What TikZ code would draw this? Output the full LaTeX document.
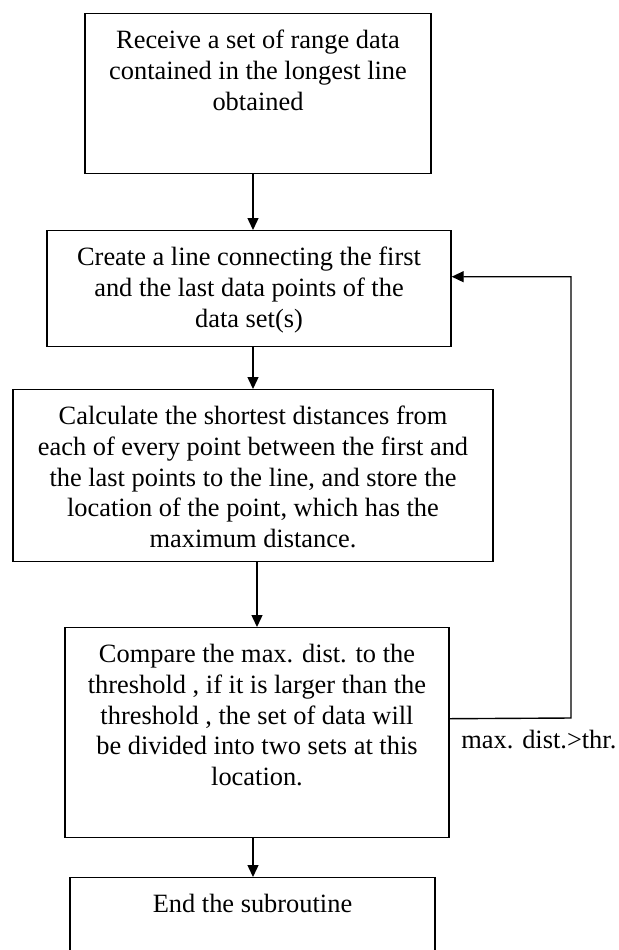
\documentclass[tikz,border=0pt]{standalone}
\usepackage{fontspec}
\setmainfont{Liberation Serif}
\usetikzlibrary{arrows.meta}

\tikzset{
  stage/.style={draw, line width=0.7pt, inner sep=0pt, align=center, anchor=north,
    font=\fontsize{13.2}{15.35}\selectfont},
  flow/.style={line width=0.7pt, -{Triangle[length=6pt,width=5.5pt]}},
}

\begin{document}
\begin{tikzpicture}[x=0.5pt,y=-0.5pt]
		\useasboundingbox (0,0) rectangle (619,950);
		\fill[white] (0,0) rectangle (619,950);
		\begin{scope}                           % last box runs off the page
			\clip (0,0) rectangle (619,950);
			% text height reaches down to the last line, text depth fills the rest
			\node[stage, minimum width=173pt, text height=48.2pt, text depth=31.8pt] (recv) at (258,13) {Receive a set of range data\\contained in the longest line\\obtained};
			\node[stage, minimum width=202pt, text height=48.2pt, text depth=9.8pt] (line) at (249,230) {Create a line connecting the first\\and the last data points of the\\data set(s)};
			\node[stage, minimum width=240pt, text height=78.9pt, text depth=7.1pt] (calc) at (253,389) {Calculate the shortest distances from\\each of every point between the first and\\the last points to the line, and store the\\location of the point, which has the\\maximum distance.};
			\node[stage, minimum width=192pt, text height=78.9pt, text depth=26.1pt] (comp) at (257,627) {Compare the max. dist. to the\\threshold , if it is larger than the\\threshold , the set of data will\\be divided into two sets at this\\location.};
			\node[stage, minimum width=182.5pt, text height=17.5pt, text depth=32.5pt] (stop) at (252.5,877) {End the subroutine};
			\node[font=\fontsize{13.2}{15.35}\selectfont, inner sep=0pt, anchor=base west] (cond) at (461,748) {max. dist.>thr.};

			\coordinate (mid) at (253,0);
			\coordinate (turn) at (571,718);
			\draw[flow] (recv.south -| mid) -- (line.north -| mid);
			\draw[flow] (line.south -| mid) -- (calc.north -| mid);
			\draw[flow] (calc.south -| comp.north) -- (comp.north);
			\draw[flow] (comp.south -| mid) -- (stop.north -| mid);
			\draw[flow] ([yshift=7pt]comp.east) -- (turn) |- ([yshift=6pt]line.east);
		\end{scope}
\end{tikzpicture}
\end{document}
